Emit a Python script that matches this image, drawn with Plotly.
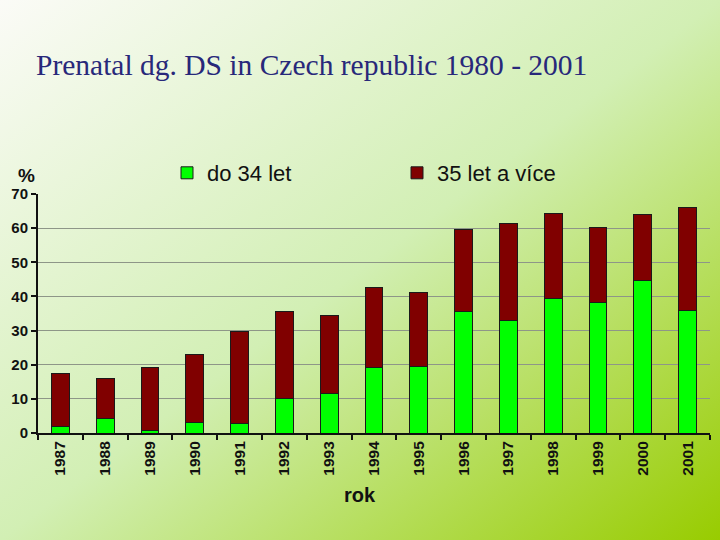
import plotly.graph_objects as go

years = ["1987", "1988", "1989", "1990", "1991", "1992", "1993", "1994",
         "1995", "1996", "1997", "1998", "1999", "2000", "2001"]
under35 = [2.0, 4.2, 0.7, 3.2, 2.9, 10.2, 11.7, 19.2, 19.6, 35.5, 32.9, 39.5, 38.2, 44.6, 35.9]
total = [17.5, 16.1, 19.3, 22.9, 29.8, 35.6, 34.4, 42.5, 41.2, 59.5, 61.5, 64.4, 60.1, 64.1, 66.0]
over35 = [round(t - u, 1) for t, u in zip(total, under35)]
yticks = [0, 10, 20, 30, 40, 50, 60, 70]

svg = ("data:image/svg+xml;utf8,<svg xmlns='http://www.w3.org/2000/svg' width='720' height='540'>"
       "<defs><linearGradient id='g' x1='0' y1='0' x2='1' y2='1'>"
       "<stop offset='0' stop-color='%23fbfbf7'/><stop offset='0.5' stop-color='%23d2efb4'/>"
       "<stop offset='1' stop-color='%2398cc00'/></linearGradient></defs>"
       "<rect width='720' height='540' fill='url(%23g)'/></svg>")

PW, PH = 672, 239

fig = go.Figure()
fig.add_trace(go.Bar(x=years, y=under35, name="do 34 let",
                     marker=dict(color="#00ff00", line=dict(color="#1a1a1a", width=1))))
fig.add_trace(go.Bar(x=years, y=over35, name="35 let a více",
                     marker=dict(color="#800000", line=dict(color="#1a1a1a", width=1))))

fig.update_layout(
    width=720, height=540,
    barmode="stack", bargap=0.6,
    paper_bgcolor="rgba(0,0,0,0)", plot_bgcolor="rgba(0,0,0,0)",
    margin=dict(l=38, r=10, t=194, b=107, autoexpand=False),
    images=[dict(source=svg, xref="paper", yref="paper", x=-38/PW, y=1 + 194/PH,
                 sizex=720/PW, sizey=540/PH, xanchor="left", yanchor="top",
                 sizing="stretch", layer="below")],
    title=dict(text="Prenatal dg. DS in Czech republic 1980 - 2001",
               font=dict(family="Liberation Serif", size=29.5, color="#28287a"),
               x=36/720, xanchor="left", y=1 - 65/540, yanchor="middle"),
    legend=dict(orientation="h", x=129/PW, y=1 + 21/PH, xanchor="left", yanchor="middle",
                font=dict(family="Liberation Sans", size=22, color="#111"),
                traceorder="normal", itemwidth=30, entrywidth=185,
                bgcolor="rgba(0,0,0,0)"),
    font=dict(family="Liberation Sans", color="#111"),
    showlegend=True,
)
fig.update_xaxes(
    tickangle=-90, tickfont=dict(size=15.5, family="Liberation Sans", weight="bold"),
    showline=True, linecolor="#111", linewidth=2, ticks="outside", tickson="boundaries",
    ticklen=5, tickcolor="#111", tickwidth=2, automargin=False,
)
fig.update_yaxes(
    range=[0, 70], tickvals=yticks, automargin=False,
    tickfont=dict(size=15, family="Liberation Sans", weight="bold"),
    showline=True, linecolor="#111", linewidth=2, ticks="outside", ticklen=5,
    tickcolor="#111", tickwidth=2,
    showgrid=True, gridcolor="#8e9688", gridwidth=1, zeroline=False,
)
fig.add_annotation(text="%", xref="paper", yref="paper", x=-12/PW, y=1 + 18/PH,
                   showarrow=False, xanchor="center", yanchor="middle",
                   font=dict(size=19, family="Liberation Sans", weight="bold", color="#111"))
fig.add_annotation(text="rok", xref="paper", yref="paper", x=(360 - 38)/PW, y=-(495 - 433)/PH,
                   showarrow=False, xanchor="center", yanchor="middle",
                   font=dict(size=20, family="Liberation Sans", weight="bold", color="#111"))
fig.write_html("out.html", config={"displayModeBar": False},
               post_script="document.body.style.margin='0';")
